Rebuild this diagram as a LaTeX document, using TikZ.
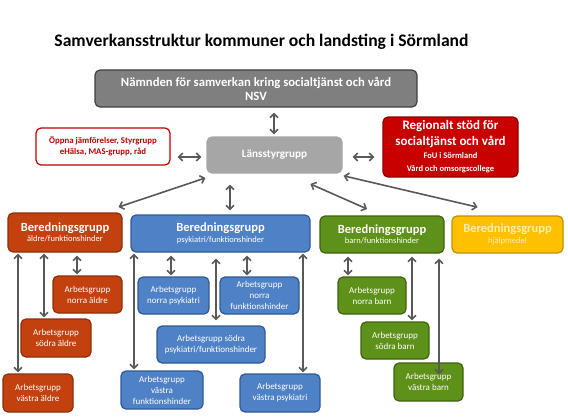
\documentclass[tikz,border=0pt]{standalone}
\usepackage{fontspec}
\setmainfont{Carlito}
\usetikzlibrary{arrows.meta,calc}
\definecolor{arrgray}{HTML}{595959}
\definecolor{nsvfill}{HTML}{7F7F7F}
\definecolor{nsvline}{HTML}{404040}
\definecolor{lsgfill}{HTML}{A6A6A6}
\definecolor{redline}{HTML}{C00000}
\definecolor{regfill}{HTML}{C80000}
\definecolor{regline}{HTML}{8B0000}
\definecolor{oranfill}{HTML}{C3410E}
\definecolor{oranline}{HTML}{8E2E08}
\definecolor{bluefill}{HTML}{4F81C7}
\definecolor{blueline}{HTML}{2E5A96}
\definecolor{greenfill}{HTML}{5E9119}
\definecolor{greenline}{HTML}{3F6310}
\definecolor{yelfill}{HTML}{FFC000}
\definecolor{yelline}{HTML}{C09000}
\definecolor{yeltext}{HTML}{FFF0B0}
\tikzset{
  box/.style={rounded corners=5pt, line width=1.2pt, align=center, inner sep=1pt},
  bered/.style={box, font=\fontsize{8.5}{10.5}\selectfont, text=white},
  arbgrp/.style={box, font=\fontsize{9}{11}\selectfont, text=white},
  orangebox/.style={fill=oranfill, draw=oranline},
  bluebox/.style={fill=bluefill, draw=blueline},
  greenbox/.style={fill=greenfill, draw=greenline},
  arr/.style={draw=arrgray, line width=1.6pt, {Straight Barb[length=4pt,width=8pt]}-{Straight Barb[length=4pt,width=8pt]}, shorten <=1pt, shorten >=1pt},
}
\newcommand{\btitle}[1]{{\fontsize{12.5}{15}\selectfont\bfseries #1}}
\begin{document}
\begin{tikzpicture}[x=1pt,y=-1pt]
\useasboundingbox (0,0) rectangle (568,420);
\node[font=\fontsize{17.6}{20}\selectfont\bfseries] (title) at (261.5,42) {Samverkansstruktur kommuner och landsting i Sörmland};
% top level
\node[box, fill=nsvfill, draw=nsvline, text=white, minimum width=322pt, minimum height=37pt, font=\fontsize{12.7}{14}\selectfont\bfseries] (nsv) at (256,88.5) {Nämnden för samverkan kring socialtjänst och vård\\NSV};
\node[box, fill=lsgfill, draw=lsgfill, text=white, minimum width=135pt, minimum height=36pt, font=\fontsize{11.2}{13}\selectfont\bfseries] (lsg) at (274.5,155) {Länsstyrgrupp};
\node[box, fill=white, draw=redline, text=redline, minimum width=134pt, minimum height=37pt, font=\fontsize{8.8}{11}\selectfont\bfseries] (open) at (103,146.5) {Öppna jämförelser, Styrgrupp\\eHälsa, MAS-grupp, råd};
\node[box, fill=regfill, draw=regline, text=white, minimum width=135pt, minimum height=60pt, font=\fontsize{13}{16}\selectfont\bfseries] (reg) at (450.5,147) {Regionalt stöd för\\socialtjänst  och vård\\[-3pt]{\fontsize{8.5}{13}\selectfont FoU i Sörmland}\\[-3pt]{\fontsize{8.5}{13}\selectfont Vård och omsorgscollege}};
% beredningsgrupper
\node[bered, orangebox, minimum width=114pt, minimum height=39pt] (bA) at (65,232.5) {\btitle{Beredningsgrupp}\\äldre/funktionshinder};
\node[bered, bluebox, minimum width=179pt, minimum height=37pt] (bP) at (220.5,233.5) {\btitle{Beredningsgrupp}\\psykiatri/funktionshinder};
\node[bered, greenbox, minimum width=124pt, minimum height=37pt] (bB) at (382,234.5) {\btitle{Beredningsgrupp}\\barn/funktionshinder};
\node[bered, fill=yelfill, draw=yelline, text=yeltext, minimum width=111pt, minimum height=37pt] (bH) at (507.5,234.5) {\btitle{Beredningsgrupp}\\hjälpmedel};
% arbetsgrupper aldre
\node[arbgrp, orangebox, minimum width=69pt, minimum height=37pt] (aNA) at (87.5,294.5) {Arbetsgrupp\\norra äldre};
\node[arbgrp, orangebox, minimum width=70pt, minimum height=38pt] (aSA) at (56,338) {Arbetsgrupp\\södra äldre};
\node[arbgrp, orangebox, minimum width=70pt, minimum height=38pt] (aVA) at (38,393) {Arbetsgrupp\\västra  äldre};
% arbetsgrupper psykiatri
\node[arbgrp, bluebox, minimum width=71pt, minimum height=37pt] (pNP) at (173.5,295.5) {Arbetsgrupp\\norra  psykiatri};
\node[arbgrp, bluebox, minimum width=79pt, minimum height=37pt] (pNF) at (259.5,295.5) {Arbetsgrupp\\norra\\funktionshinder};
\node[arbgrp, bluebox, minimum width=108pt, minimum height=37pt] (pS) at (211,344.5) {Arbetsgrupp södra\\psykiatri/funktionshinder};
\node[arbgrp, bluebox, minimum width=82pt, minimum height=38pt] (pVF) at (162,390) {Arbetsgrupp\\västra\\funktionshinder};
\node[arbgrp, bluebox, minimum width=80pt, minimum height=38pt] (pVP) at (280,393) {Arbetsgrupp\\västra  psykiatri};
% arbetsgrupper barn
\node[arbgrp, greenbox, minimum width=68pt, minimum height=37pt] (gN) at (372,295.5) {Arbetsgrupp\\norra barn};
\node[arbgrp, greenbox, minimum width=68pt, minimum height=37pt] (gS) at (395,340.5) {Arbetsgrupp\\södra barn};
\node[arbgrp, greenbox, minimum width=69pt, minimum height=38pt] (gV) at (428.5,382) {Arbetsgrupp\\västra  barn};
% top arrows
\draw[arr, shorten <=5pt, shorten >=2pt] (nsv.south -| 274,0) -- (lsg.north -| 274,0);
\draw[arr, shorten <=7pt, shorten >=5pt] (open.east |- 0,157) -- (lsg.west |- 0,157);
\draw[arr, shorten <=10pt, shorten >=8pt] (lsg.east |- 0,157) -- (reg.west |- 0,157);
\draw[arr] ([yshift=-4pt]lsg.south west) -- ([xshift=-5pt,yshift=5pt]bA.north east);
\draw[arr, shorten <=11pt, shorten >=4pt] (lsg.south -| 230,0) -- (bP.north -| 230,0);
\draw[arr] ([xshift=35pt,yshift=-10pt]lsg.south) -- ([xshift=-14pt,yshift=6pt]bB.north);
\draw[arr] ([yshift=-2pt]lsg.south east) -- ([xshift=-29pt,yshift=8pt]bH.north);
% aldre arrows
\draw[arr] (bA.south -| 18,0) -- (aVA.north -| 18,0);
\draw[arr] (bA.south -| 44,0) -- (aSA.north -| 44,0);
\draw[arr, shorten <=3pt] (bA.south -| 77,0) -- (aNA.north -| 77,0);
% psykiatri arrows
\draw[arr] (bP.south -| 134,0) -- (pVF.north -| 134,0);
\draw[arr, shorten <=3pt] (bP.south -| 171,0) -- (pNP.north -| 171,0);
\draw[arr, shorten <=6pt, shorten >=5pt] (bP.south -| 216,0) -- (pS.north -| 216,0);
\draw[arr, shorten <=3pt] (bP.south -| 247,0) -- (pNF.north -| 247,0);
\draw[arr] (bP.south -| 303,0) -- (pVP.north -| 303,0);
% barn arrows
\draw[arr, shorten <=3pt] (bB.south -| 348,0) -- (gN.north -| 348,0);
\draw[arr, shorten <=3pt] (bB.south -| 412,0) -- (gS.north -| 412,0);
\draw[arr, shorten <=5pt, shorten >=0pt] (bB.south -| 439,0) -- ($(gV.north -| 439,0)+(0,12)$);
\end{tikzpicture}
\end{document}
